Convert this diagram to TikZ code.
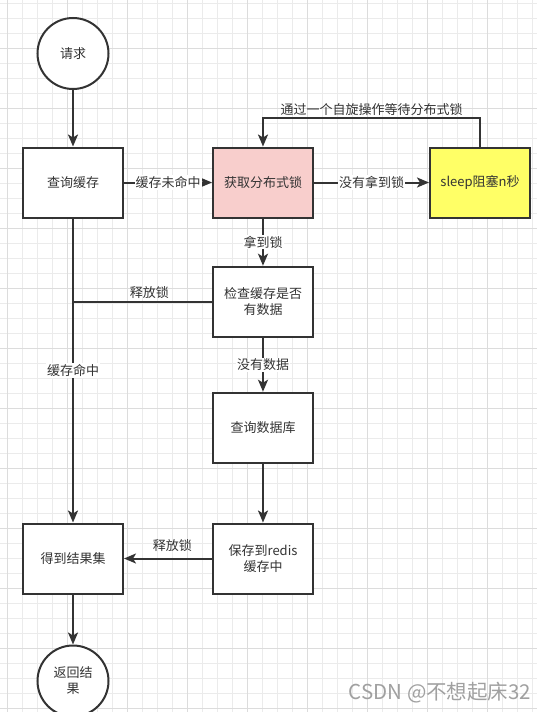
\documentclass[tikz,border=0pt]{standalone}
\usepackage{fontspec}
\setmainfont{Noto Sans CJK SC}
\usetikzlibrary{arrows.meta}
\definecolor{linec}{HTML}{333333}
\definecolor{txtc}{HTML}{333333}
\definecolor{gridminor}{HTML}{EBEBEB}
\definecolor{gridmajor}{HTML}{DCDCDC}
\definecolor{pinkfill}{HTML}{F8CECC}
\definecolor{yelfill}{HTML}{FFFF66}
\definecolor{wmc}{HTML}{A0A0A0}
\tikzset{
  box/.style={draw=linec, line width=2pt, fill=white, minimum width=100pt, minimum height=70pt, inner sep=0pt, align=center, text=txtc, font=\fontsize{13}{16}\selectfont},
  circ/.style={draw=linec, line width=2pt, fill=white, circle, minimum size=71pt, inner sep=0pt, align=center, text=txtc, font=\fontsize{13}{16}\selectfont},
  arr/.style={draw=linec, line width=2pt, -{Stealth[length=12pt,width=10pt,inset=3pt]}},
  plainline/.style={draw=linec, line width=2pt},
  lbl/.style={fill=white, inner sep=1pt, text=txtc, font=\fontsize{13}{16}\selectfont},
  toplbl/.style={inner sep=1pt, text=txtc, font=\fontsize{13}{16}\selectfont},
  wm/.style={text=wmc, inner sep=0pt, font=\fontsize{20.5}{24}\selectfont}
}
\begin{document}
\begin{tikzpicture}[x=1pt,y=-1pt]
\useasboundingbox (0,0) rectangle (537,712);
\fill[white] (0,0) rectangle (537,712);
% grid
\foreach \i in {0,...,35} {\draw[gridminor, line width=1pt] (7.5+15*\i,0) -- (7.5+15*\i,712);}
\foreach \i in {0,...,47} {\draw[gridminor, line width=1pt] (0,3.3+15*\i) -- (537,3.3+15*\i);}
\foreach \i in {0,...,8} {\draw[gridmajor, line width=1pt] (7.5+60*\i,0) -- (7.5+60*\i,712);}
\foreach \i in {0,...,11} {\draw[gridmajor, line width=1pt] (0,48.3+60*\i) -- (537,48.3+60*\i);}

% nodes
\node[circ] (req) at (73,53.5) {请求};
\node[box] (cache) at (73,182.5) {查询缓存};
\node[box, fill=pinkfill] (lock) at (263,182.5) {获取分布式锁};
\node[box, fill=yelfill] (sleep) at (480,182.5) {sleep阻塞n秒};
\node[box] (check) at (263,301.7) {检查缓存是否\\有数据};
\node[box] (db) at (263,427.7) {查询数据库};
\node[box] (save) at (263,558.5) {保存到redis\\缓存中};
\node[box] (result) at (73,558.5) {得到结果集};
\node[circ] (ret) at (73,681) {返回结\\果};
\coordinate (loopy) at (0,118.3);
\coordinate (joint) at (73,301.7);

% connectors
\draw[arr] (req) -- (cache);
\draw[arr] (cache) -- node[lbl] {缓存未命中} (lock);
\draw[arr] (lock) -- node[lbl] {没有拿到锁} (sleep);
\draw[arr] (sleep.north) -- (sleep.north |- loopy) -| node[pos=0.25, toplbl, above=1pt] {通过一个自旋操作等待分布式锁} (lock.north);
\draw[arr] (lock) -- node[lbl] {拿到锁} (check);
\draw[arr] (check) -- node[lbl] {没有数据} (db);
\draw[arr] (db) -- (save);
\draw[plainline] (check.west) -- node[pos=0.45, toplbl, above=1pt] {释放锁} (joint);
\draw[arr] (cache) -- node[lbl] {缓存命中} (result);
\draw[arr] (save) -- node[pos=0.45, toplbl, above=5pt] {释放锁} (result);
\draw[arr] (result) -- (ret);

\node[wm] (wmk) at (440,693) {CSDN @不想起床32};
\end{tikzpicture}
\end{document}
